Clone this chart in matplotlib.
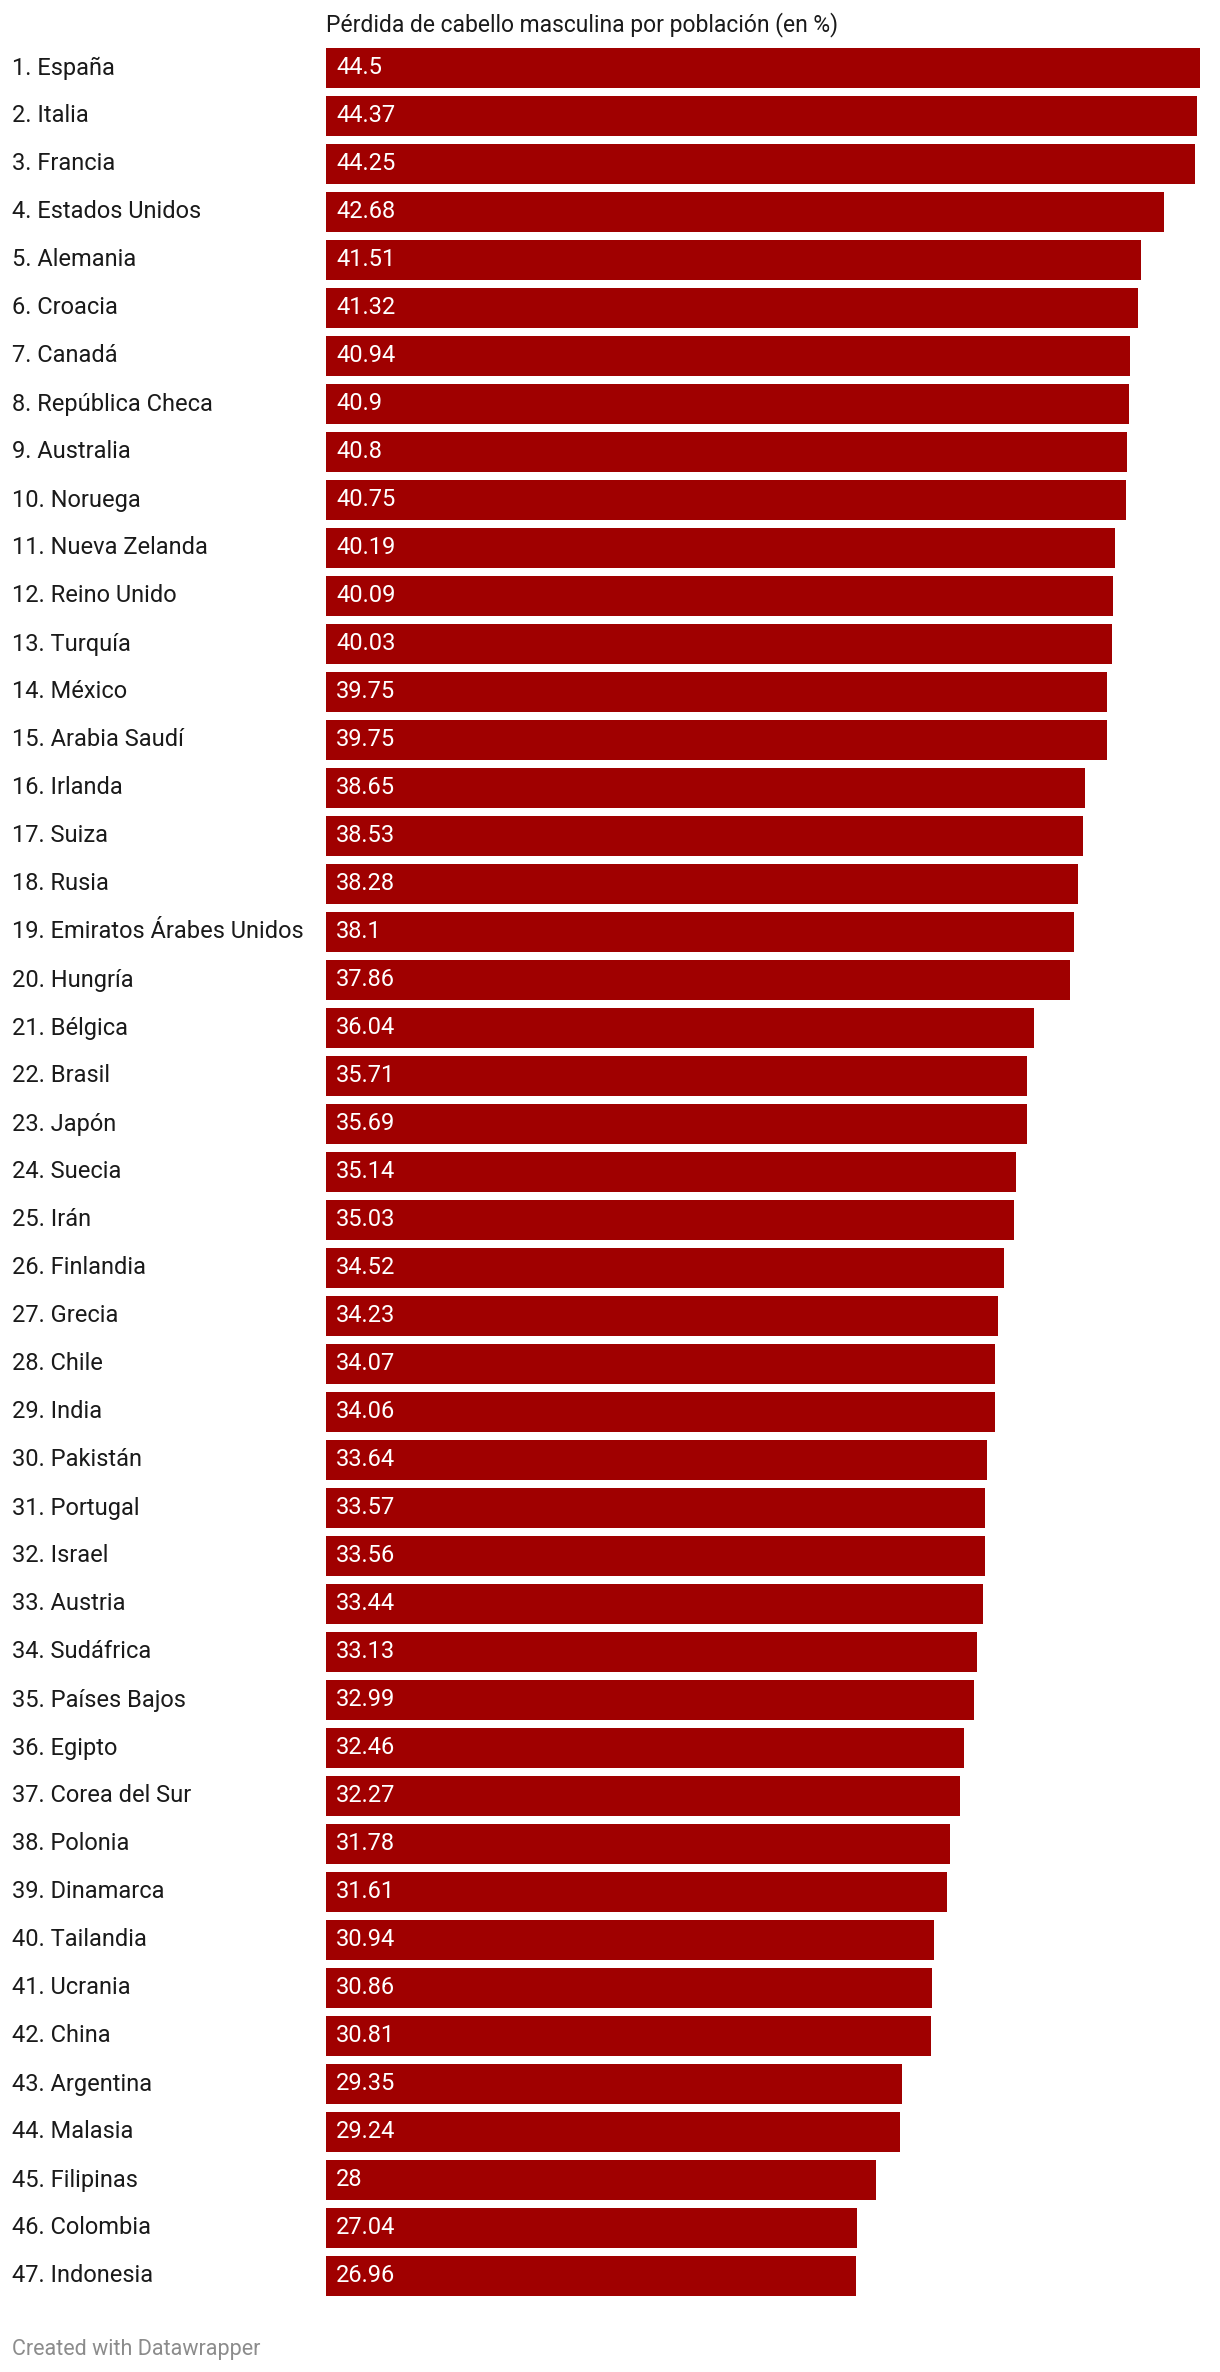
import matplotlib
matplotlib.use("Agg")
import matplotlib.pyplot as plt
from matplotlib.transforms import blended_transform_factory

countries = ["España", "Italia", "Francia", "Estados Unidos", "Alemania", "Croacia", "Canadá",
             "República Checa", "Australia", "Noruega", "Nueva Zelanda", "Reino Unido", "Turquía",
             "México", "Arabia Saudí", "Irlanda", "Suiza", "Rusia", "Emiratos Árabes Unidos",
             "Hungría", "Bélgica", "Brasil", "Japón", "Suecia", "Irán", "Finlandia", "Grecia",
             "Chile", "India", "Pakistán", "Portugal", "Israel", "Austria", "Sudáfrica",
             "Países Bajos", "Egipto", "Corea del Sur", "Polonia", "Dinamarca", "Tailandia",
             "Ucrania", "China", "Argentina", "Malasia", "Filipinas", "Colombia", "Indonesia"]
values = [44.5, 44.37, 44.25, 42.68, 41.51, 41.32, 40.94, 40.9, 40.8, 40.75, 40.19, 40.09, 40.03,
          39.75, 39.75, 38.65, 38.53, 38.28, 38.1, 37.86, 36.04, 35.71, 35.69, 35.14, 35.03, 34.52,
          34.23, 34.07, 34.06, 33.64, 33.57, 33.56, 33.44, 33.13, 32.99, 32.46, 32.27, 31.78, 31.61,
          30.94, 30.86, 30.81, 29.35, 29.24, 28, 27.04, 26.96]
value_labels = ["44.5", "44.37", "44.25", "42.68", "41.51", "41.32", "40.94", "40.9", "40.8", "40.75",
                "40.19", "40.09", "40.03", "39.75", "39.75", "38.65", "38.53", "38.28", "38.1", "37.86",
                "36.04", "35.71", "35.69", "35.14", "35.03", "34.52", "34.23", "34.07", "34.06", "33.64",
                "33.57", "33.56", "33.44", "33.13", "32.99", "32.46", "32.27", "31.78", "31.61", "30.94",
                "30.86", "30.81", "29.35", "29.24", "28", "27.04", "26.96"]
title = "Pérdida de cabello masculina por población (en %)"
footer = "Created with Datawrapper"

plt.rcParams['font.family'] = ['Roboto', 'DejaVu Sans']

W, H = 1220, 2372
fig = plt.figure(figsize=(W / 100, H / 100), dpi=100)
left_px, right_px = 326, 1200
top_px, bot_px = 44, 2300
ax = fig.add_axes([left_px / W, 1 - bot_px / H, (right_px - left_px) / W, (bot_px - top_px) / H])

n = len(countries)
ypos = list(range(n))
ax.barh(ypos, values, height=40 / 48, color="#a00000", left=0)
ax.set_xlim(0, max(values))
ax.set_ylim(n - 0.5, -0.5)
ax.axis("off")

trans = blended_transform_factory(fig.transFigure, ax.transData)
for i, (c, v, lab) in enumerate(zip(countries, values, value_labels)):
    ax.text(12 / W, i, f"{i + 1}. {c}", transform=trans, ha="left", va="center",
            fontsize=17, color="#1a1a1a")
    ax.text((left_px + 10) / W, i, lab, transform=trans, ha="left", va="center",
            fontsize=17, color="white")

fig.text(left_px / W, 1 - 25 / H, title, ha="left", va="center", fontsize=16.5, color="#1a1a1a")
fig.text(12 / W, 1 - 2349 / H, footer, ha="left", va="center", fontsize=15.5, color="#8c8c8c")

fig.savefig("out.png", dpi=100)
